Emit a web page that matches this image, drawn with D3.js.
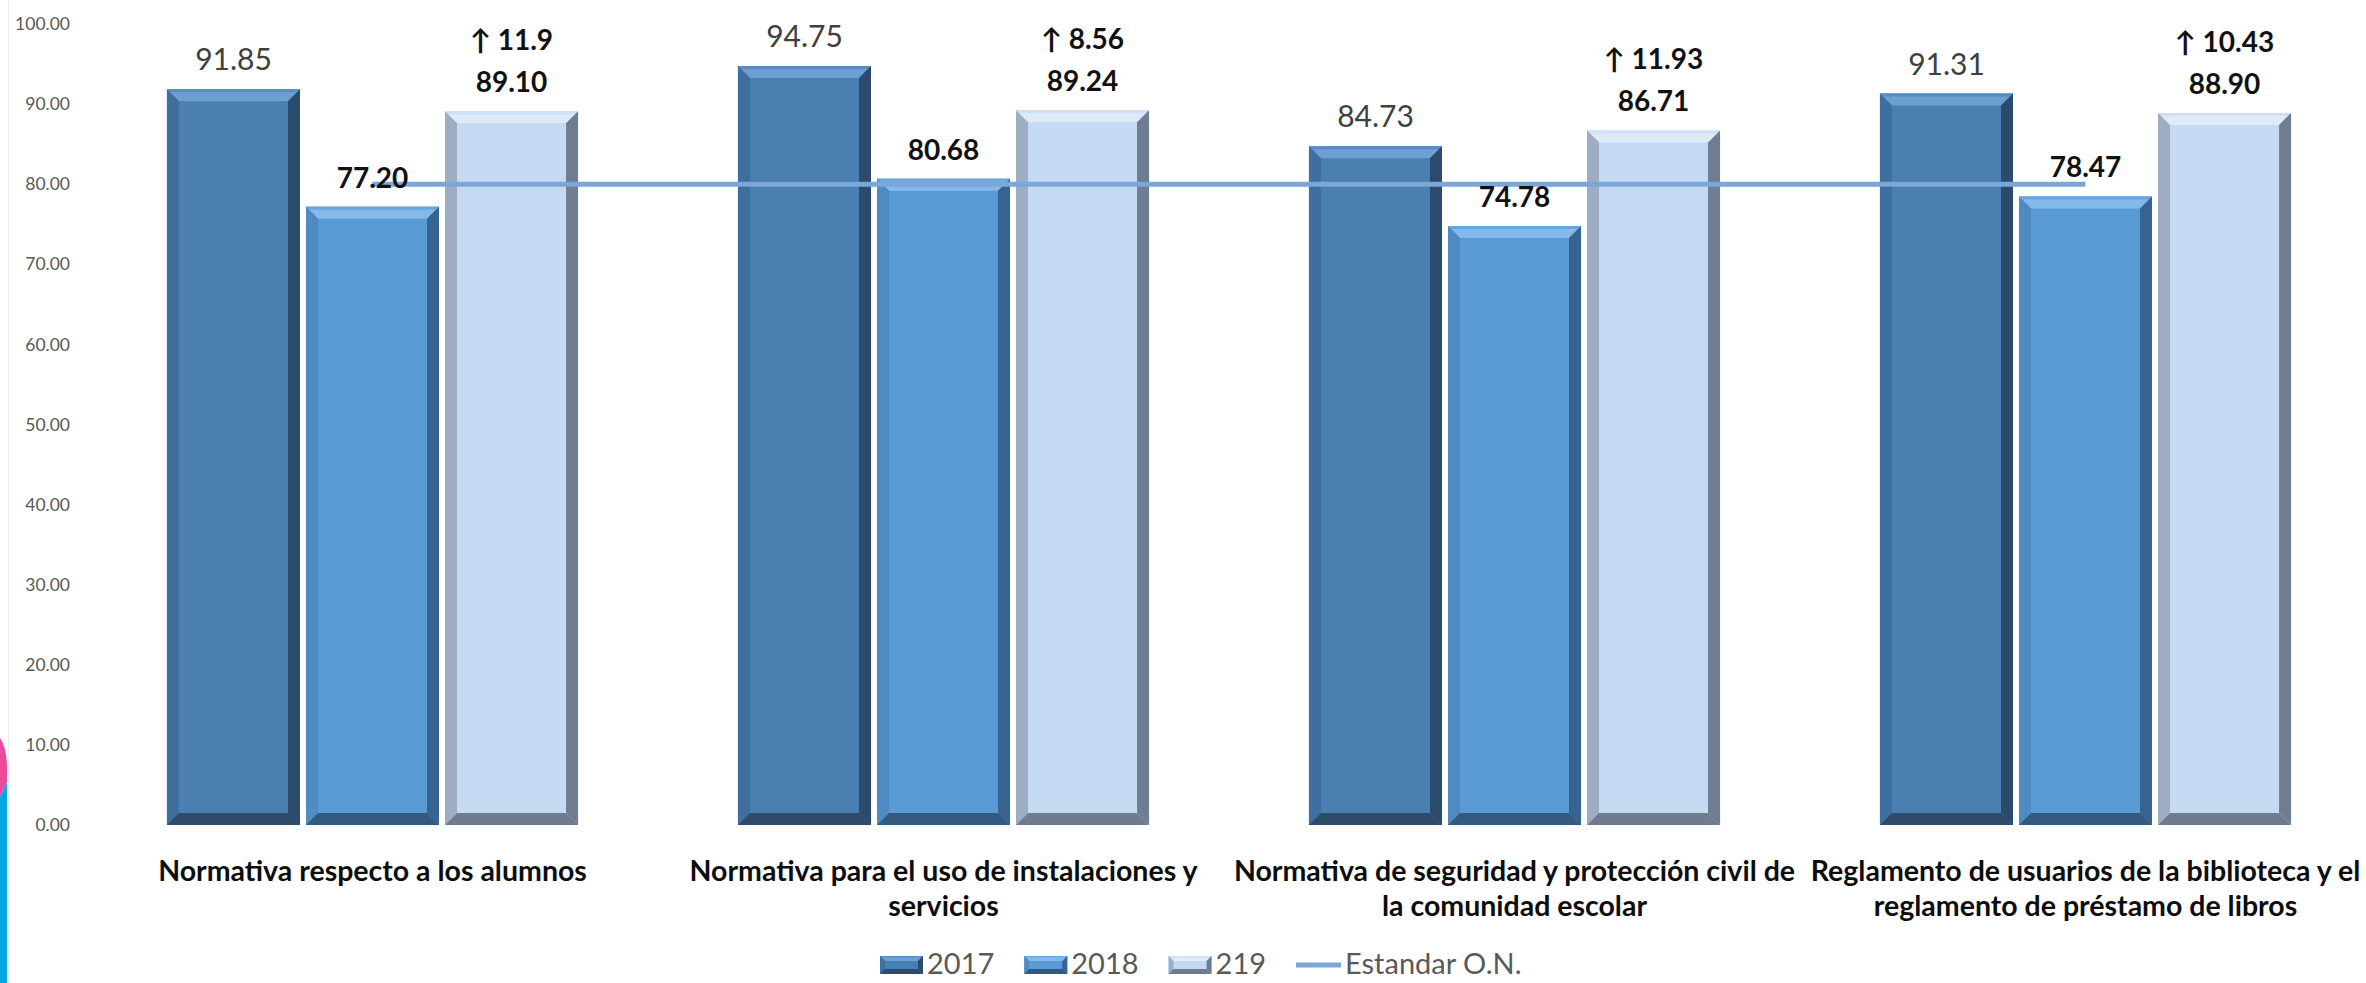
<!DOCTYPE html>
<html>
<head>
<meta charset="utf-8">
<script src="https://cdn.jsdelivr.net/npm/d3@7"></script>
<style>
  html, body { margin: 0; padding: 0; background: #ffffff; }
  svg { display: block; }
  text { font-family: Lato, "Open Sans", sans-serif; }
</style>
</head>
<body>
<svg id="chart" width="2366" height="983"></svg>
<script>
// ---------------- DATA ----------------
const categories = [
  "Normativa respecto a los alumnos",
  "Normativa para el uso de instalaciones y servicios",
  "Normativa de seguridad y protección civil de la comunidad escolar",
  "Reglamento de usuarios de la biblioteca y el reglamento de préstamo de libros"
];
const categoryLines = [
  ["Normativa respecto a los alumnos"],
  ["Normativa para el uso de instalaciones y", "servicios"],
  ["Normativa de seguridad y protección civil de", "la comunidad escolar"],
  ["Reglamento de usuarios de la biblioteca y el", "reglamento de préstamo de libros"]
];
const seriesNames = ["2017", "2018", "219"];
const values2017 = [91.85, 94.75, 84.73, 91.31];
const values2018 = [77.20, 80.68, 74.78, 78.47];
const values219  = [89.10, 89.24, 86.71, 88.90];
const increases219 = ["11.9", "8.56", "11.93", "10.43"];
const standardName = "Estandar O.N.";
const standardValues = [80, 80, 80, 80];
const yTicks = [0, 10, 20, 30, 40, 50, 60, 70, 80, 90, 100];

// ---------------- STYLES ----------------
const palette = {
  "2017": {main: "#4a7fb1", top: "#6c9fd2", topEdge: "#5a8cc0", left: "#3f6f9f", right: "#2c4b6c", bottom: "#2e4b69"},
  "2018": {main: "#5b9bd5", top: "#84baeb", topEdge: "#6aa6dc", left: "#4f8ac2", right: "#36638f", bottom: "#345a80"},
  "219":  {main: "#c5d9f2", top: "#dfeaf8", topEdge: "#cfdff4", left: "#9dadc4", right: "#6e7d92", bottom: "#6f7c8e"}
};
const lineColor = "#7aa6d8";

const svg = d3.select("#chart");
const W = 2366, H = 983;

// left decoration
svg.append("line").attr("x1", 8.5).attr("x2", 8.5).attr("y1", 0).attr("y2", H)
  .attr("stroke", "#ececec").attr("stroke-width", 1);
svg.append("path").attr("d", "M0,738 Q7,748 7,768 L7,782 L0,797 Z").attr("fill", "#ee4a9b");
svg.append("path").attr("d", "M0,797 L7,782 L7,983 L0,983 Z").attr("fill", "#05a8e4");

// scales
const y = d3.scaleLinear().domain([0, 100]).range([825, 24]);
const x0 = d3.scaleBand().domain(categories).range([87, 2371]).padding(0);
const x1 = d3.scaleBand().domain(seriesNames).range([0, x0.bandwidth()])
  .paddingInner(0.043).paddingOuter(0.575);

// y axis
const yAxis = svg.append("g").attr("transform", "translate(78,0)")
  .call(d3.axisLeft(y).tickValues(yTicks).tickFormat(d3.format(".2f")).tickSize(0).tickPadding(8));
yAxis.select(".domain").remove();
yAxis.selectAll("text").attr("font-family", "Lato, sans-serif").attr("font-size", 17.5).attr("fill", "#595959");

// bevel bar drawing
const B = 12;
function bevelBar(g, x, yTop, w, h, c, b) {
  const x2 = x + w, y2 = yTop + h;
  g.append("rect").attr("x", x).attr("y", yTop).attr("width", w).attr("height", h).attr("fill", c.main);
  g.append("polygon").attr("points", [[x,yTop],[x2,yTop],[x2-b,yTop+b],[x+b,yTop+b]].join(" ")).attr("fill", c.top);
  g.append("polygon").attr("points", [[x,yTop],[x2,yTop],[x2-b*0.25,yTop+b*0.25],[x+b*0.25,yTop+b*0.25]].join(" ")).attr("fill", c.topEdge);
  g.append("polygon").attr("points", [[x,yTop],[x+b,yTop+b],[x+b,y2-b],[x,y2]].join(" ")).attr("fill", c.left);
  g.append("polygon").attr("points", [[x2,yTop],[x2,y2],[x2-b,y2-b],[x2-b,yTop+b]].join(" ")).attr("fill", c.right);
  g.append("polygon").attr("points", [[x,y2],[x2,y2],[x2-b,y2-b],[x+b,y2-b]].join(" ")).attr("fill", c.bottom);
}

const seriesData = {"2017": values2017, "2018": values2018, "219": values219};
const barsG = svg.append("g");
categories.forEach((cat, i) => {
  seriesNames.forEach(s => {
    const v = seriesData[s][i];
    const bx = x0(cat) + x1(s);
    const by = y(v);
    bevelBar(barsG, bx, by, x1.bandwidth(), y(0) - by, palette[s], B);
  });
});

// standard line
const lineGen = d3.line()
  .x((d, i) => x0(categories[i]) + x0.bandwidth() / 2)
  .y(d => y(d));
svg.append("path").datum(standardValues).attr("d", lineGen)
  .attr("fill", "none").attr("stroke", lineColor).attr("stroke-width", 5);

// data labels
const labelsG = svg.append("g").attr("text-anchor", "middle");
categories.forEach((cat, i) => {
  const cx = s => x0(cat) + x1(s) + x1.bandwidth() / 2;
  labelsG.append("text").attr("x", cx("2017")).attr("y", y(values2017[i]) - 19)
    .attr("font-size", 30).attr("fill", "#404040").text(values2017[i].toFixed(2));
  labelsG.append("text").attr("x", cx("2018")).attr("y", y(values2018[i]) - 19)
    .attr("font-size", 28).attr("font-weight", "bold").attr("fill", "#111").text(values2018[i].toFixed(2));
  labelsG.append("text").attr("x", cx("219")).attr("y", y(values219[i]) - 19)
    .attr("font-size", 28).attr("font-weight", "bold").attr("fill", "#111").text(values219[i].toFixed(2));
  labelsG.append("text").attr("x", cx("219")).attr("y", y(values219[i]) - 61)
    .attr("font-size", 28).attr("font-weight", "bold").attr("fill", "#111").text("↑ " + increases219[i]);
});

// category labels
const catG = svg.append("g").attr("text-anchor", "middle");
categories.forEach((cat, i) => {
  const t = catG.append("text").attr("x", x0(cat) + x0.bandwidth() / 2).attr("y", 881)
    .attr("font-size", 28.5).attr("font-weight", "bold").attr("fill", "#0d0d0d");
  categoryLines[i].forEach((ln, j) => {
    t.append("tspan").attr("x", x0(cat) + x0.bandwidth() / 2).attr("dy", j === 0 ? 0 : 35).text(ln);
  });
});

// legend
const legG = svg.append("g");
let lx = 880;
const legBase = 974;
seriesNames.forEach(s => {
  const g = legG.append("g");
  bevelBar(g, lx, 956, 43, 18, palette[s], 5);
  const t = g.append("text").attr("x", lx + 47).attr("y", legBase)
    .attr("font-size", 29).attr("fill", "#595959").text(s);
  lx += 47 + t.node().getComputedTextLength() + 30;
});
legG.append("line").attr("x1", lx).attr("x2", lx + 45).attr("y1", 965).attr("y2", 965)
  .attr("stroke", lineColor).attr("stroke-width", 5);
legG.append("text").attr("x", lx + 49).attr("y", legBase)
  .attr("font-size", 29).attr("fill", "#595959").text(standardName);
</script>
</body>
</html>
